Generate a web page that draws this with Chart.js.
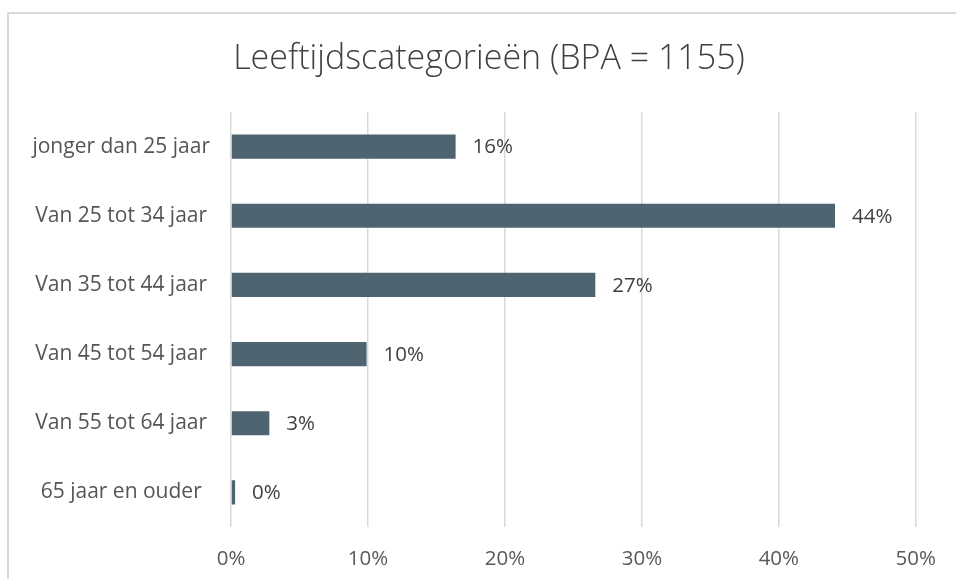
<!DOCTYPE html>
<html>
<head>
<meta charset="utf-8">
<script src="https://cdn.jsdelivr.net/npm/chart.js@4/dist/chart.umd.min.js"></script>
<style>
  html, body { margin: 0; padding: 0; background: #fff; }
  #wrap { width: 956px; height: 579px; position: relative; }
</style>
</head>
<body>
<div id="wrap"><canvas id="c" width="956" height="579"></canvas></div>
<script>
const titleText = 'Leeftijdscategorieën (BPA = 1155)';
const categories = [
  'jonger dan 25 jaar',
  'Van 25 tot 34 jaar',
  'Van 35 tot 44 jaar',
  'Van 45 tot 54 jaar',
  'Van 55 tot 64 jaar',
  '65 jaar en ouder'
];
const shares = [16.4, 44.1, 26.6, 9.9, 2.8, 0.3];
const xTicks = [0, 10, 20, 30, 40, 50];

const frame = {
  id: 'frame',
  beforeDraw(chart) {
    const ctx = chart.ctx;
    ctx.save();
    ctx.fillStyle = '#ffffff';
    ctx.fillRect(0, 0, chart.width, chart.height);
    ctx.strokeStyle = '#d9d9d9';
    ctx.lineWidth = 2;
    ctx.beginPath();
    ctx.moveTo(8, chart.height);
    ctx.lineTo(8, 13);
    ctx.lineTo(chart.width, 13);
    ctx.stroke();
    ctx.restore();
  }
};

const chartTitle = {
  id: 'chartTitle',
  afterDraw(chart) {
    const ctx = chart.ctx;
    ctx.save();
    ctx.font = '300 34px "Open Sans"';
    ctx.fillStyle = '#404040';
    ctx.textAlign = 'center';
    ctx.textBaseline = 'alphabetic';
    ctx.fillText(titleText, 489, 69);
    ctx.restore();
  }
};

const valueLabels = {
  id: 'valueLabels',
  afterDatasetsDraw(chart) {
    const ctx = chart.ctx;
    const meta = chart.getDatasetMeta(0);
    ctx.save();
    ctx.font = '20.5px "Open Sans"';
    ctx.fillStyle = '#404040';
    ctx.textAlign = 'left';
    ctx.textBaseline = 'middle';
    meta.data.forEach((bar, i) => {
      const v = chart.data.datasets[0].data[i];
      ctx.fillText(Math.round(v) + '%', bar.x + 17, bar.y + 1);
    });
    ctx.restore();
  }
};

new Chart(document.getElementById('c'), {
  type: 'bar',
  data: {
    labels: categories,
    datasets: [{
      data: shares,
      backgroundColor: '#4e6571',
      borderWidth: 0,
      barPercentage: 0.35,
      categoryPercentage: 1.0
    }]
  },
  plugins: [frame, valueLabels, chartTitle],
  options: {
    indexAxis: 'y',
    responsive: false,
    animation: false,
    devicePixelRatio: 1,
    layout: { padding: { left: 0, right: 36, top: 112, bottom: 0 } },
    plugins: {
      legend: { display: false },
      tooltip: { enabled: false },
      title: { display: false }
    },
    scales: {
      x: {
        min: 0,
        max: 50,
        afterBuildTicks(scale) { scale.ticks = xTicks.map(v => ({ value: v })); },
        afterFit(scale) { scale.height = 52; },
        border: { display: false },
        grid: { color: '#d9d9d9', lineWidth: 1.5, drawTicks: false },
        ticks: {
          padding: 20,
          color: '#595959',
          font: { family: '"Open Sans"', size: 20.5 },
          callback: v => v + '%'
        }
      },
      y: {
        afterFit(scale) { scale.width = 231; },
        border: { display: false },
        grid: { display: false, drawTicks: false },
        ticks: {
          padding: 21,
          crossAlign: 'center',
          color: '#555555',
          font: { family: '"Open Sans"', size: 21 }
        }
      }
    }
  }
});
</script>
</body>
</html>
